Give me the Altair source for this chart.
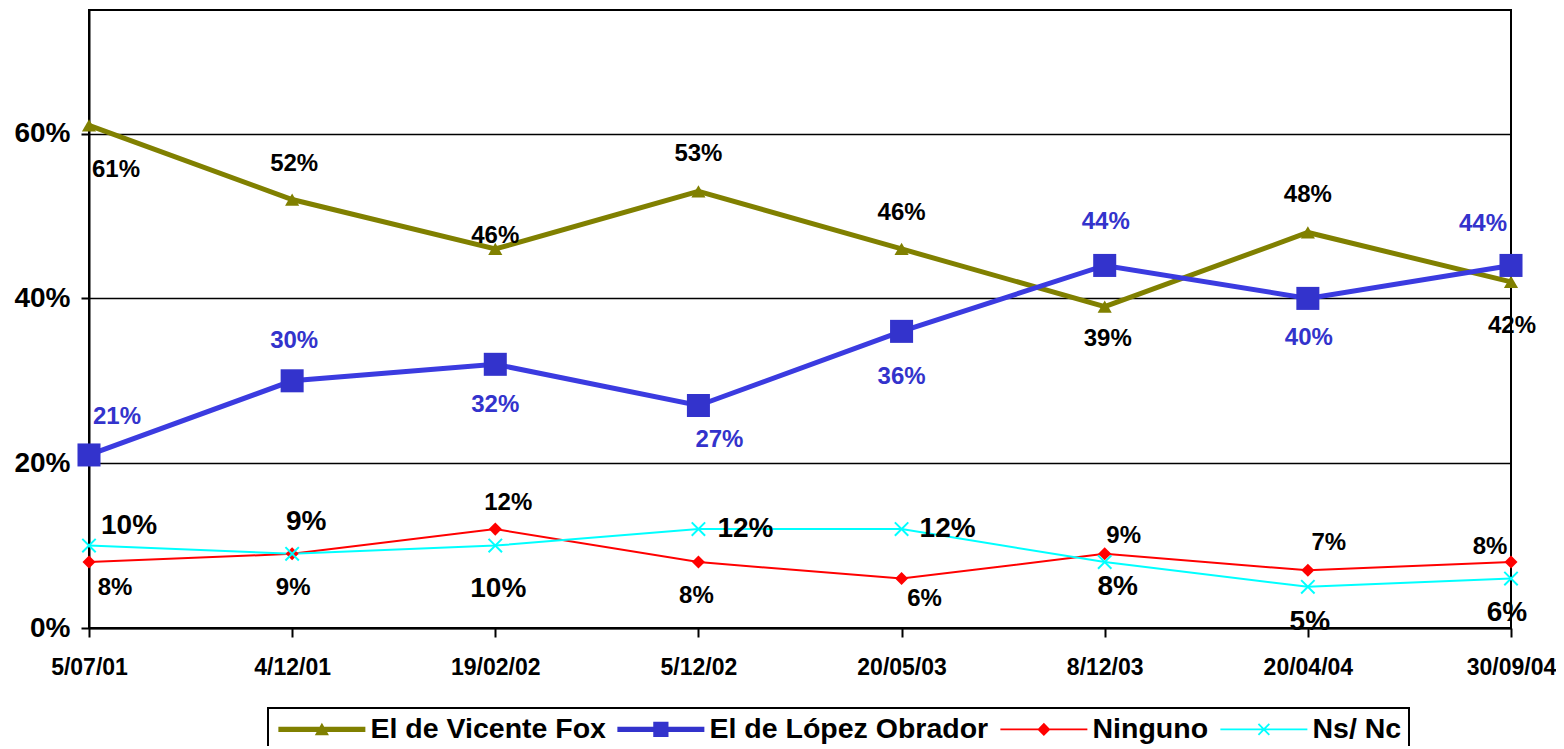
import altair as alt
import pandas as pd

# ---- data ----
dates = ["5/07/01", "4/12/01", "19/02/02", "5/12/02", "20/05/03", "8/12/03", "20/04/04", "30/09/04"]
series_names = ["El de Vicente Fox", "El de López Obrador", "Ninguno", "Ns/ Nc"]
fox = [61, 52, 46, 53, 46, 39, 48, 42]
lopez = [21, 30, 32, 27, 36, 44, 40, 44]
ninguno = [8, 9, 12, 8, 6, 9, 7, 8]
nsnc = [10, 9, 10, 12, 12, 8, 5, 6]

# ---- label offsets (pixels, relative to each point) ----
fox_dx = [27, 2, 0, 0, 0, 3, 0, 1]
fox_dy = [45, -36, -13, -37, -36, 32, -37, 44]
lopez_dx = [28, 2, 0, 21, 0, 1, 1, -28]
lopez_dy = [-38, -40, 41, 34, 46, -43, 40, -41]
ninguno_dx = [26, 1, 13, -2, 23, 19, 21, -21]
ninguno_dy = [26, 34, -26, 34, 20, -18, -27, -15]
nsnc_dx = [40, 14, 3, 47, 46, 13, 2, -4]
nsnc_dy = [-20, -32, 43, 0, 0, 25, 35, 34]

# ---- styles ----
line_colors = ["#808000", "#3b3be0", "#FF0000", "#00FFFF"]
legend_colors = ["#808000", "#3333CC", "#FF0000", "#00FFFF"]
marker_colors = ["#808000", "#3333CC", "#FF0000", "#00FFFF"]
line_widths = [5, 5, 2, 2]
label_colors = ["black", "#3333CC", "black", "black"]
label_sizes = [24, 24, 24, 28]
FONT = "Liberation Sans"

legend_paths = [
    "M-1,-0.23H7V0.23H-1Z M2.35,0.55L3,-0.62L3.65,0.55Z",
    "M-1,-0.23H7V0.23H-1Z M2.3,-0.7H3.7V0.7H2.3Z",
    "M-1,-0.09H7V0.09H-1Z M3,-0.6L3.6,0L3,0.6L2.4,0Z",
    "M-1,-0.09H7V0.09H-1Z M2.56,-0.56L3.56,0.44L3.44,0.56L2.44,-0.44Z "
    "M2.44,0.44L3.44,-0.56L3.56,-0.44L2.56,0.56Z",
]

values = [fox, lopez, ninguno, nsnc]
dxs = [fox_dx, lopez_dx, ninguno_dx, nsnc_dx]
dys = [fox_dy, lopez_dy, ninguno_dy, nsnc_dy]

rows = []
for s, vals, dx, dy in zip(series_names, values, dxs, dys):
    for d, v, ox, oy in zip(dates, vals, dx, dy):
        rows.append({"date": d, "series": s, "value": v / 100.0,
                     "label": f"{v}%", "dx": ox, "dy": oy})
df = pd.DataFrame(rows)

x_enc = alt.X(
    "date:O", sort=dates,
    scale=alt.Scale(type="point", padding=0),
    axis=alt.Axis(title=None, labelAngle=0, grid=False, tickSize=9, labelPadding=19,
                  labelFontSize=23, labelFont=FONT, labelFontWeight="bold",
                  labelColor="black", domainColor="black", domainWidth=2,
                  tickColor="black", tickWidth=2),
)
y_enc = alt.Y(
    "value:Q",
    scale=alt.Scale(domain=[0, 0.75], nice=False, zero=True),
    axis=alt.Axis(title=None, values=[0, 0.2, 0.4, 0.6], format=".0%", grid=True,
                  gridColor="black", gridWidth=1.5, tickSize=8, labelPadding=11,
                  labelFontSize=28, labelFont=FONT, labelFontWeight="bold",
                  labelColor="black", domainColor="black", domainWidth=2,
                  tickColor="black", tickWidth=2),
)

base = alt.Chart(df)
layers = []

# lines
for i, s in enumerate(series_names):
    layers.append(
        base.transform_filter(alt.datum.series == s)
        .mark_line(color=line_colors[i], strokeWidth=line_widths[i])
        .encode(x=x_enc, y=y_enc)
    )
# markers
marker_defs = [
    dict(shape="triangle-up", filled=True, size=200),
    dict(shape="square", filled=True, size=530),
    dict(shape="diamond", filled=True, size=170),
    dict(shape="M-1,-1L1,1M-1,1L1,-1", filled=False, size=180, strokeWidth=2),
]
for i, s in enumerate(series_names):
    layers.append(
        base.transform_filter(alt.datum.series == s)
        .mark_point(color=marker_colors[i], opacity=1, **marker_defs[i])
        .encode(x=x_enc, y=y_enc)
    )
# labels
for i, s in enumerate(series_names):
    layers.append(
        base.transform_filter(alt.datum.series == s)
        .mark_text(font=FONT, fontWeight="bold", fontSize=label_sizes[i],
                   color=label_colors[i], align="center", baseline="middle",
                   dx=alt.ExprRef(expr="datum.dx"), dy=alt.ExprRef(expr="datum.dy"))
        .encode(x=x_enc, y=y_enc, text="label:N")
    )
# legend carrier (invisible marks)
layers.append(
    base.mark_point(filled=True, opacity=0, size=473)
    .encode(
        x=x_enc, y=y_enc,
        fill=alt.Fill("series:N", scale=alt.Scale(domain=series_names, range=legend_colors),
                      legend=alt.Legend(title=None)),
        shape=alt.Shape("series:N", scale=alt.Scale(domain=series_names, range=legend_paths),
                        legend=alt.Legend(title=None)),
    )
)

chart = (
    alt.layer(*layers)
    .properties(
        width=1422, height=618,
        autosize=alt.AutoSizeParams(type="none"),
        padding={"left": 81, "top": 2, "right": 45, "bottom": 118},
        background="white",
    )
    .configure_view(stroke="black", strokeWidth=2)
    .configure_legend(
        orient="none", legendX=179, legendY=698, direction="horizontal", columns=4,
        symbolSize=473, symbolStrokeWidth=0, symbolOpacity=1,
        labelFont=FONT, labelFontSize=28.5, labelFontWeight="bold", labelColor="black",
        labelOffset=67, labelLimit=500, columnPadding=8, padding=7,
        strokeColor="black", strokeWidth=2,
    )
)

chart.save("out.html", embed_options={"renderer": "svg", "actions": False})
